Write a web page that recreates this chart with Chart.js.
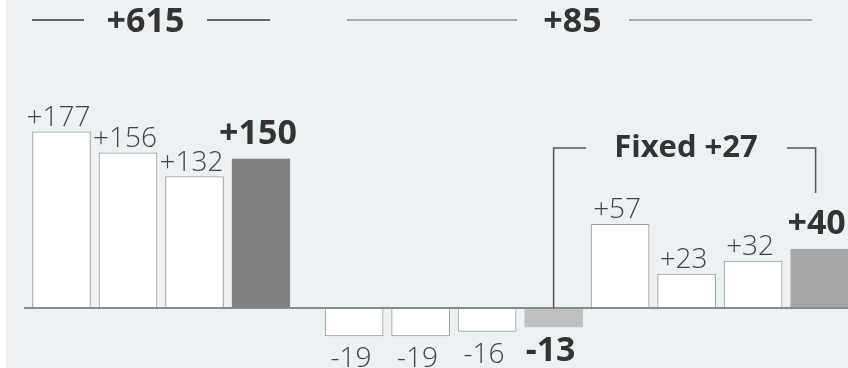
<!DOCTYPE html>
<html>
<head>
<meta charset="utf-8">
<script src="https://cdn.jsdelivr.net/npm/chart.js@4.4.1/dist/chart.umd.min.js"></script>
<style>
  html, body { margin: 0; padding: 0; background: #fff; }
  canvas { display: block; }
</style>
</head>
<body>
<canvas id="chart" width="848" height="368"></canvas>
<script>
// values
const leftValues = [177, 156, 132, 150];
const rightValues = [-19, -19, -16, -13, 57, 23, 32, 40];
const leftTotals = [3];        // index of the summary bar in each group
const rightTotals = [3, 7];
const leftHeader = '+615';
const rightHeader = '+85';
const bracketLabel = 'Fixed +27';

// layout
const BASE_Y = 308;            // pixel row of the zero line
const PX_LEFT = 0.995;         // pixels per unit, left group
const PX_RIGHT = 1.47;         // pixels per unit, right group
const GROUP_GAP = 0.4;         // extra space between the two groups (in bar slots)
const H = 368, W = 848;

const fmt = v => (v > 0 ? '+' + v : String(v));

const leftData = leftValues.map((v, i) => ({ x: i, y: v }));
const rightData = rightValues.map((v, i) => ({ x: leftValues.length + GROUP_GAP + i, y: v }));

const leftFill = leftValues.map((v, i) => leftTotals.includes(i) ? '#808080' : '#ffffff');
const leftBorder = leftValues.map((v, i) => leftTotals.includes(i) ? '#808080' : '#9a9a9a');
const rightFill = rightValues.map((v, i) => rightTotals.includes(i) ? (v < 0 ? '#c0c0c0' : '#a6a6a6') : '#ffffff');
const rightBorder = rightValues.map((v, i) => rightTotals.includes(i) ? (v < 0 ? '#c0c0c0' : '#a6a6a6') : '#9a9a9a');

const FONT = '"Open Sans", "Noto Sans", sans-serif';

const decor = {
    id: 'decor',
    beforeDraw(chart) {
        const ctx = chart.ctx;
        ctx.save();
        ctx.fillStyle = '#ecf1f4';
        ctx.fillRect(6, 0, W - 6, H);
        ctx.restore();
    },
    afterDatasetsDraw(chart) {
        const ctx = chart.ctx;
        const zero = chart.scales.yL.getPixelForValue(0);
        ctx.save();

        // zero line
        ctx.strokeStyle = '#8a8a8a';
        ctx.lineWidth = 2;
        ctx.beginPath();
        ctx.moveTo(24, zero);
        ctx.lineTo(W, zero);
        ctx.stroke();

        // value labels
        const groups = [
            { meta: chart.getDatasetMeta(0), values: leftValues, totals: leftTotals },
            { meta: chart.getDatasetMeta(1), values: rightValues, totals: rightTotals }
        ];
        ctx.textAlign = 'center';
        ctx.textBaseline = 'alphabetic';
        groups.forEach(g => {
            g.meta.data.forEach((bar, i) => {
                const v = g.values[i];
                const bold = g.totals.includes(i);
                ctx.font = bold ? '700 34px ' + FONT : '300 28px ' + FONT;
                ctx.fillStyle = bold ? '#333333' : '#444444';
                let y;
                if (v >= 0) y = bar.y - (bold ? 15 : 6);
                else y = bar.y + (bold ? 34 : 31);
                ctx.fillText(fmt(v), bar.x - 3, y);
            });
        });

        // group headers
        ctx.font = '700 34px ' + FONT;
        ctx.fillStyle = '#333333';
        ctx.lineWidth = 2;
        const headers = [
            { text: leftHeader, cx: 145.5, lines: [[32, 84], [207, 270]], color: '#666666' },
            { text: rightHeader, cx: 572.5, lines: [[347, 517], [629, 812]], color: '#aaaaaa' }
        ];
        headers.forEach(h => {
            ctx.strokeStyle = h.color;
            h.lines.forEach(([a, b]) => {
                ctx.beginPath();
                ctx.moveTo(a, 20);
                ctx.lineTo(b, 20);
                ctx.stroke();
            });
            ctx.fillText(h.text, h.cx, 32);
        });

        // bracket over the fixed part
        const rmeta = chart.getDatasetMeta(1).data;
        const bx1 = rmeta[3].x;
        const bx2 = rmeta[7].x - 4;
        const top = 148;
        ctx.strokeStyle = '#555555';
        ctx.lineWidth = 1.5;
        ctx.beginPath();
        ctx.moveTo(bx1, zero);
        ctx.lineTo(bx1, top);
        ctx.lineTo(586, top);
        ctx.moveTo(787, top);
        ctx.lineTo(bx2, top);
        ctx.lineTo(bx2, 193);
        ctx.stroke();
        ctx.font = '700 31px ' + FONT;
        ctx.fillStyle = '#333333';
        ctx.fillText(bracketLabel, 686, 157);

        ctx.restore();
    }
};

new Chart(document.getElementById('chart'), {
    type: 'bar',
    data: {
        datasets: [
            {
                data: leftData,
                yAxisID: 'yL',
                backgroundColor: leftFill,
                borderColor: leftBorder,
                borderWidth: 1,
                borderSkipped: false,
                barThickness: 58,
                grouped: false
            },
            {
                data: rightData,
                yAxisID: 'yR',
                backgroundColor: rightFill,
                borderColor: rightBorder,
                borderWidth: 1,
                borderSkipped: false,
                barThickness: 58,
                grouped: false
            }
        ]
    },
    options: {
        responsive: false,
        animation: false,
        layout: { padding: 0 },
        plugins: { legend: { display: false }, tooltip: { enabled: false } },
        scales: {
            x: { type: 'linear', display: false, min: -61.5 / 66.5, max: -61.5 / 66.5 + W / 66.5, offset: false },
            yL: { display: false, min: -(H - BASE_Y) / PX_LEFT, max: BASE_Y / PX_LEFT },
            yR: { display: false, min: -(H - BASE_Y) / PX_RIGHT, max: BASE_Y / PX_RIGHT }
        }
    },
    plugins: [decor]
});
</script>
</body>
</html>
